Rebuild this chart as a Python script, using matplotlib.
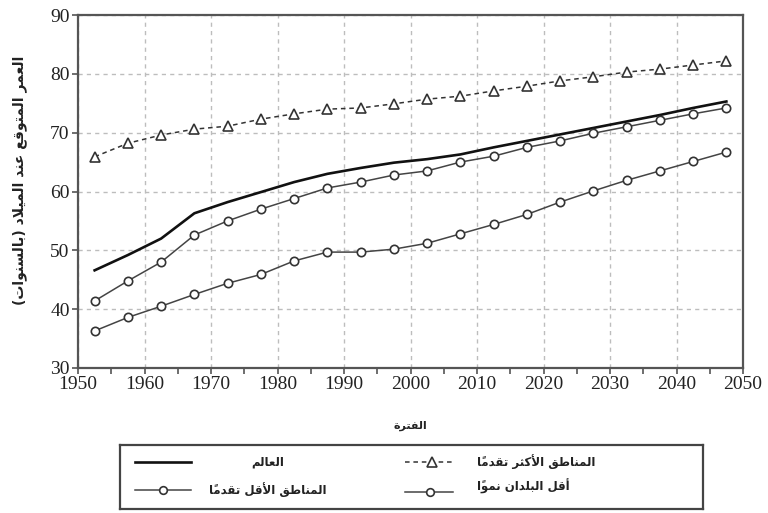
import matplotlib
matplotlib.use("Agg")
import matplotlib.pyplot as plt
from matplotlib.lines import Line2D

# --- data -------------------------------------------------------------
years = [1952.5, 1957.5, 1962.5, 1967.5, 1972.5, 1977.5, 1982.5, 1987.5,
         1992.5, 1997.5, 2002.5, 2007.5, 2012.5, 2017.5, 2022.5, 2027.5,
         2032.5, 2037.5, 2042.5, 2047.5]
world = [46.6, 49.2, 52.0, 56.3, 58.2, 59.9, 61.6, 63.0, 64.0, 64.9,
         65.5, 66.3, 67.5, 68.6, 69.7, 70.8, 71.9, 73.0, 74.2, 75.3]
more_dev = [65.9, 68.2, 69.6, 70.6, 71.1, 72.3, 73.2, 74.0, 74.2, 74.9,
            75.7, 76.2, 77.1, 77.9, 78.8, 79.5, 80.3, 80.8, 81.5, 82.2]
less_dev = [41.4, 44.8, 48.0, 52.6, 55.0, 57.0, 58.8, 60.6, 61.6, 62.8,
            63.5, 65.0, 66.0, 67.5, 68.6, 69.9, 71.0, 72.1, 73.2, 74.2]
least_dev = [36.3, 38.6, 40.5, 42.5, 44.4, 45.9, 48.2, 49.7, 49.7, 50.2,
             51.2, 52.8, 54.4, 56.1, 58.2, 60.1, 61.9, 63.5, 65.1, 66.7]

x_ticks = [1950, 1960, 1970, 1980, 1990, 2000, 2010, 2020, 2030, 2040, 2050]
y_ticks = [30, 40, 50, 60, 70, 80, 90]

y_title = "العمر المتوقع عند الميلاد (بالسنوات)"
x_title = "الفترة"
lbl_world = "العالم"
lbl_more = "المناطق الأكثر تقدماً"
lbl_less = "المناطق الأقل تقدماً"
lbl_least = "أقل البلدان نمواً"

# --- minimal arabic shaping (matplotlib has no bidi / joining) ---------
DUAL = {'ب': 0xFE8F, 'ت': 0xFE95, 'ث': 0xFE99, 'ج': 0xFE9D, 'ح': 0xFEA1,
        'خ': 0xFEA5, 'س': 0xFEB1, 'ش': 0xFEB5, 'ص': 0xFEB9, 'ض': 0xFEBD,
        'ط': 0xFEC1, 'ظ': 0xFEC5, 'ع': 0xFEC9, 'غ': 0xFECD, 'ف': 0xFED1,
        'ق': 0xFED5, 'ك': 0xFED9, 'ل': 0xFEDD, 'م': 0xFEE1, 'ن': 0xFEE5,
        'ه': 0xFEE9, 'ي': 0xFEF1}
RIGHT = {'ا': 0xFE8D, 'أ': 0xFE83, 'إ': 0xFE87, 'آ': 0xFE81, 'د': 0xFEA9,
         'ذ': 0xFEAB, 'ر': 0xFEAD, 'ز': 0xFEAF, 'و': 0xFEED, 'ى': 0xFEEF,
         'ة': 0xFE93}
LAM_ALEF = {'ا': 0xFEFB, 'أ': 0xFEF7, 'إ': 0xFEF9, 'آ': 0xFEF5}
MARKS = set('\u064b\u064c\u064d\u064e\u064f\u0650\u0651\u0652')


def shape(text):
    units = []
    i = 0
    while i < len(text):
        c = text[i]
        if c in MARKS and units:
            units[-1][1] += c
            i += 1
            continue
        if c == 'ل' and i + 1 < len(text) and text[i + 1] in LAM_ALEF:
            units.append(['LA' + text[i + 1], ''])
            i += 2
            continue
        units.append([c, ''])
        i += 1

    def kind(u):
        b = u[0]
        if b in DUAL:
            return 'D'
        if b in RIGHT or b.startswith('LA'):
            return 'R'
        return None

    out = []
    for k, (b, m) in enumerate(units):
        kd = kind(units[k])
        if kd is None:
            out.append({'(': ')', ')': '('}.get(b, b) + m)
            continue
        prev = k > 0 and kind(units[k - 1]) == 'D'
        nxt = kd == 'D' and k + 1 < len(units) and kind(units[k + 1]) is not None
        if b.startswith('LA'):
            base = LAM_ALEF[b[2]]
            g = chr(base + 1) if prev else chr(base)
        elif kd == 'R':
            base = RIGHT[b]
            g = chr(base + 1) if prev else chr(base)
        else:
            base = DUAL[b]
            if prev and nxt:
                g = chr(base + 3)
            elif prev:
                g = chr(base + 1)
            elif nxt:
                g = chr(base + 2)
            else:
                g = chr(base)
        out.append(g + m)
    return ''.join(reversed(out))


AR = dict(family=['DejaVu Sans'], fontweight='bold', color='#222222')
DARK = '#333333'
GRID = '#bdbdbd'

# --- figure -----------------------------------------------------------
fig = plt.figure(figsize=(7.68, 5.13), dpi=100)
ax = fig.add_axes([78 / 768, 1 - 368 / 513, 665 / 768, 353 / 513])

ax.plot(years, world, color='#111111', lw=1.9, zorder=3)
ax.plot(years, more_dev, color=DARK, lw=1.1, ls=(0, (3, 2.5)), marker='^',
        ms=7, mfc='white', mec=DARK, mew=1.2, zorder=3)
ax.plot(years, less_dev, color='#444444', lw=1.1, marker='o', ms=6,
        mfc='white', mec=DARK, mew=1.2, zorder=3)
ax.plot(years, least_dev, color='#444444', lw=1.1, marker='o', ms=6,
        mfc='white', mec=DARK, mew=1.2, zorder=3)

ax.set_xlim(1950, 2050)
ax.set_ylim(30, 90)
ax.set_xticks(x_ticks)
ax.set_xticks(range(1955, 2050, 10), minor=True)
ax.set_yticks(y_ticks)
ax.grid(True, which='major', color=GRID, ls=(0, (3, 3)), lw=1.0)
ax.tick_params(axis='both', which='both', direction='out', length=4,
               width=1.2, color='#555555', labelsize=14, pad=2)
for lab in ax.get_xticklabels() + ax.get_yticklabels():
    lab.set_fontfamily('Liberation Serif')
    lab.set_color('#222222')
for sp in ax.spines.values():
    sp.set_color('#555555')
    sp.set_linewidth(1.6)

fig.text(20 / 768, 1 - 180 / 513, shape(y_title), rotation=90,
         ha='center', va='center', fontsize=10, **AR)
fig.text(410 / 768, 1 - 426 / 513, shape(x_title), ha='center',
         va='center', fontsize=8, **AR)

# --- legend box ---------------------------------------------------------
lg = fig.add_axes([120 / 768, 1 - 509 / 513, 583 / 768, 64 / 513])
lg.set_xlim(120, 703)
lg.set_ylim(509, 445)
lg.set_xticks([])
lg.set_yticks([])
for sp in lg.spines.values():
    sp.set_color('#444444')
    sp.set_linewidth(1.6)

r1, r2 = 462, 490
lg.add_line(Line2D([135, 191], [r1, r1], color='#111111', lw=1.9))
lg.add_line(Line2D([135, 191], [r2, r2], color='#444444', lw=1.1))
lg.plot([163], [r2], marker='o', ms=5.5, mfc='white', mec=DARK, mew=1.2)
lg.add_line(Line2D([405, 453], [r1, r1], color=DARK, lw=1.1,
                   ls=(0, (3, 2.5))))
lg.plot([432], [r1], marker='^', ms=6.5, mfc='white', mec=DARK, mew=1.2)
lg.add_line(Line2D([405, 453], [r2 + 2, r2 + 2], color='#444444', lw=1.1))
lg.plot([430], [r2 + 2], marker='o', ms=5.5, mfc='white', mec=DARK, mew=1.2)

lg.text(268, r1, shape(lbl_world), ha='center', va='center', fontsize=8.5, **AR)
lg.text(268, r2, shape(lbl_less), ha='center', va='center', fontsize=8.5, **AR)
lg.text(477, r1, shape(lbl_more), ha='left', va='center', fontsize=8.5, **AR)
lg.text(477, r2 - 4, shape(lbl_least), ha='left', va='center', fontsize=8.5, **AR)

fig.savefig('out.png', dpi=100, facecolor='white')
